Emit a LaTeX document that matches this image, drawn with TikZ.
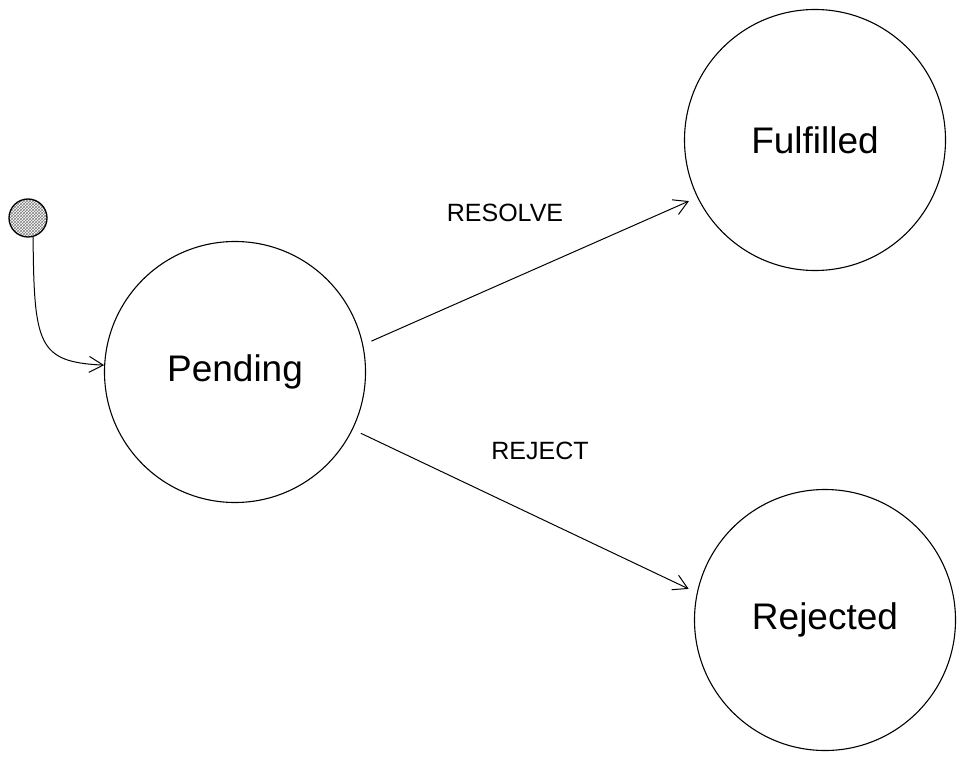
\documentclass[tikz,border=0pt]{standalone}
\usepackage{fontspec}
\setmainfont{Liberation Sans}
\usetikzlibrary{arrows.meta,patterns}
\begin{document}
\begin{tikzpicture}[x=1pt,y=-1pt,
  state/.style={circle,draw=black,line width=1.1pt,minimum size=261pt,inner sep=0pt,font=\fontsize{37}{42}\selectfont},
  initdot/.style={circle,draw=black,line width=1.3pt,minimum size=38pt,inner sep=0pt,pattern=crosshatch,pattern color=gray},
  trans/.style={draw=black,line width=1pt,-{Straight Barb[length=14pt,width=16pt,line width=1pt]}},
  lbl/.style={font=\fontsize{25}{28}\selectfont}]
\useasboundingbox (0,0) rectangle (965,762);
\node[initdot] (init) at (28,218) {};
\node[state] (pend) at (235,372) {Pending};
\node[state] (ful) at (815,140) {Fulfilled};
\node[state] (rej) at (825,620) {Rejected};
\draw[trans] (init.-75) .. controls (34,345) and (38,362) .. (pend.177);
\draw[trans,shorten <=9pt,shorten >=9pt] (pend.12.4) -- (ful.206.7);
\draw[trans,shorten <=9pt,shorten >=9pt] (pend.-26) -- (rej.168.7);
\node[lbl] (lres) at (505,213) {RESOLVE};
\node[lbl] (lrej) at (540,451) {REJECT};
\end{tikzpicture}
\end{document}
